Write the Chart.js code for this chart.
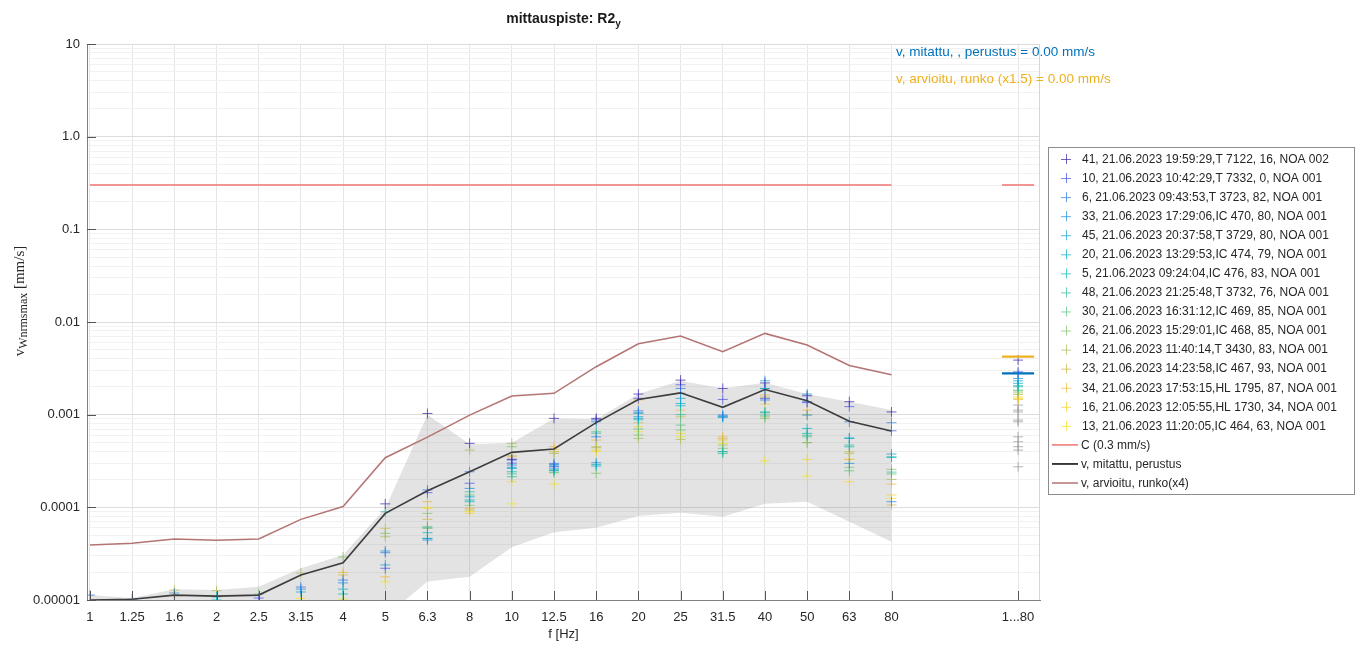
<!DOCTYPE html>
<html><head><meta charset="utf-8">
<script src="https://cdn.jsdelivr.net/npm/chart.js@4.4.0/dist/chart.umd.min.js"></script>
<style>html,body{margin:0;padding:0;background:#fff;}#wrap{width:1362px;height:645px;position:relative;}</style>
</head><body><div id="wrap"><canvas id="c" width="1362" height="645"></canvas></div>
<script>
// ---------------- DATA ----------------
const freqLabels = ['1','1.25','1.6','2','2.5','3.15','4','5','6.3','8','10','12.5','16','20','25','31.5','40','50','63','80'];
const totalLabel = '1...80';
const totalSlot = 22; // category slot of the "1...80" column (two empty slots after 80)

const yTickValues = [1e-5, 1e-4, 1e-3, 1e-2, 1e-1, 1, 10];
const yTickLabels = ['0.00001','0.0001','0.001','0.01','0.1','1.0','10'];

const seriesLabels = [
  '41, 21.06.2023 19:59:29,T 7122, 16, NOA 002',
  '10, 21.06.2023 10:42:29,T 7332, 0, NOA 001',
  '6, 21.06.2023 09:43:53,T 3723, 82, NOA 001',
  '33, 21.06.2023 17:29:06,IC 470, 80, NOA 001',
  '45, 21.06.2023 20:37:58,T 3729, 80, NOA 001',
  '20, 21.06.2023 13:29:53,IC 474, 79, NOA 001',
  '5, 21.06.2023 09:24:04,IC 476, 83, NOA 001',
  '48, 21.06.2023 21:25:48,T 3732, 76, NOA 001',
  '30, 21.06.2023 16:31:12,IC 469, 85, NOA 001',
  '26, 21.06.2023 15:29:01,IC 468, 85, NOA 001',
  '14, 21.06.2023 11:40:14,T 3430, 83, NOA 001',
  '23, 21.06.2023 14:23:58,IC 467, 93, NOA 001',
  '34, 21.06.2023 17:53:15,HL 1795, 87, NOA 001',
  '16, 21.06.2023 12:05:55,HL 1730, 34, NOA 001',
  '13, 21.06.2023 11:20:05,IC 464, 63, NOA 001'
];
// values per measurement: 20 frequency bands, then the 1...80 total
const m41 = [7e-6,6e-6,7e-6,6e-6,7e-6,8e-6,8e-6,1.09e-4,1.03e-3,4.90e-4,3.3e-4,9.12e-4,9.12e-4,1.67e-3,2.36e-3,1.92e-3,2.2e-3,1.6e-3,1.38e-3,1.07e-3,3.88e-3];
const m10 = [6.5e-6,7e-6,6e-6,7e-6,1.05e-5,7e-6,9e-6,2.20e-5,1.44e-4,1.82e-4,3.0e-4,2.74e-4,8.8e-4,1.5e-3,2.1e-3,1.46e-3,1.5e-3,1.35e-3,1.22e-3,6.70e-4,2.90e-3];
const m6  = [1.13e-5,1.02e-5,8e-6,6e-6,7e-6,1.38e-5,1.64e-5,3.24e-5,1.54e-4,2.42e-4,3.24e-4,2.98e-4,5.77e-4,1.1e-3,1.92e-3,9.9e-4,1.44e-3,1.38e-3,8.38e-4,8.18e-4,2.79e-3];
const m33 = [6e-6,5.5e-6,1.19e-5,8e-6,6e-6,1.31e-5,1.53e-5,3.38e-5,4.44e-5,1.60e-4,2.86e-4,2.9e-4,3.03e-4,1.05e-3,1.7e-3,9.5e-4,1.9e-3,9.9e-4,2.98e-4,1.15e-4,2.46e-3];
const m45 = [5.5e-6,6e-6,7e-6,7e-6,8e-6,1.22e-5,9e-6,2.39e-5,4.6e-5,1.30e-4,2.7e-4,2.8e-4,8.38e-4,9.5e-4,1.50e-3,9.66e-4,2.32e-3,1.67e-3,5.6e-4,3.76e-4,2.32e-3];
const m20 = [7.5e-6,5e-6,6e-6,1.08e-5,6e-6,8e-6,1.31e-5,8e-6,5.32e-5,1.20e-4,2.63e-4,2.6e-4,2.79e-4,9.12e-4,1.32e-3,9.3e-4,1.92e-3,7.11e-4,5.55e-4,3.46e-4,2.18e-3];
const m5  = [5e-6,6.5e-6,5.5e-6,1.0e-5,7e-6,7e-6,1.16e-5,8.5e-6,4.63e-5,1.15e-4,2.42e-4,2.5e-4,2.9e-4,8.8e-4,1.25e-3,4.0e-4,1.05e-3,6.28e-4,4.5e-4,3.5e-4,2.05e-3];
const m48 = [6e-6,5e-6,6.5e-6,6e-6,6e-6,9e-6,8e-6,8.96e-5,6.0e-5,1.47e-4,2.14e-4,2.53e-4,6.3e-4,1.03e-3,1.0e-3,3.82e-4,1.07e-3,6.0e-4,4.70e-4,2.4e-4,2.0e-3];
const m30 = [4.5e-6,4.5e-6,5e-6,7e-6,5e-6,8e-6,9e-6,7e-6,6.18e-5,1.36e-4,2.3e-4,2.4e-4,6.54e-4,7.0e-4,7.72e-4,3.98e-4,9.9e-4,5.77e-4,2.48e-4,2.29e-4,1.84e-3];
const m26 = [5e-6,6e-6,6e-6,6e-6,1.16e-5,7e-6,2.91e-5,5.24e-5,8.61e-5,1.05e-4,4.51e-4,2.36e-4,2.33e-4,6.03e-4,6.82e-4,4.33e-4,9.12e-4,4.98e-4,2.70e-4,2.57e-4,1.8e-3];
const m14 = [7e-6,5e-6,8e-6,1.26e-5,7e-6,1.95e-5,8e-6,4.82e-5,5.94e-5,4.15e-4,4.90e-4,3.82e-4,4.4e-4,5.55e-4,5.41e-4,4.70e-4,9.5e-4,5.0e-4,3.82e-4,2.00e-4,1.72e-3];
const m23 = [4e-6,4.5e-6,1.28e-5,7e-6,6e-6,8e-6,1.86e-5,5.94e-5,7.42e-5,9.35e-5,3.6e-4,3.98e-4,4.51e-4,8.18e-4,9.49e-4,5.5e-4,1.55e-3,1.0e-3,3.98e-4,1.06e-4,1.65e-3];
const m34 = [6e-6,5.5e-6,7e-6,5e-6,5e-6,7e-6,1.98e-5,1.78e-5,1.15e-4,9.75e-5,3.51e-4,4.51e-4,5.32e-4,1.44e-3,1.12e-3,5.77e-4,1.63e-3,1.12e-3,3.29e-4,1.78e-4,1.46e-3];
const m16 = [5e-6,4e-6,9.75e-6,6e-6,6e-6,6e-6,8e-6,7.5e-6,9.75e-5,8.61e-5,1.89e-4,4.2e-4,4.15e-4,7.41e-4,6.28e-4,5.32e-4,1.30e-3,3.29e-4,1.89e-4,1.36e-4,1.55e-3];
const m13 = [4.5e-6,5e-6,6e-6,5e-6,5e-6,1.04e-5,1.02e-5,1.57e-5,1.0e-4,9.0e-5,1.09e-4,1.78e-4,4.0e-4,6.54e-4,5.77e-4,4.9e-4,3.18e-4,2.18e-4,3.3e-4,1.25e-4,1.5e-3];
const seriesValues = [m41,m10,m6,m33,m45,m20,m5,m48,m30,m26,m14,m23,m34,m16,m13];

// other (grey, unlabelled) totals in the 1...80 column
const otherTotals = [1.27e-3,1.12e-3,1.07e-3,8.74e-4,8.38e-4,5.77e-4,5.10e-4,4.51e-4,4.15e-4,2.74e-4];

const measuredLine  = [1.0e-5,1.02e-5,1.13e-5,1.1e-5,1.13e-5,1.86e-5,2.52e-5,8.6e-5,1.51e-4,2.42e-4,3.92e-4,4.26e-4,8.2e-4,1.46e-3,1.72e-3,1.2e-3,1.87e-3,1.41e-3,8.5e-4,6.65e-4];
const estimatedLine = [3.92e-5,4.09e-5,4.55e-5,4.4e-5,4.55e-5,7.42e-5,1.02e-4,3.43e-4,5.73e-4,9.9e-4,1.59e-3,1.70e-3,3.29e-3,5.82e-3,7.05e-3,4.77e-3,7.53e-3,5.64e-3,3.40e-3,2.69e-3];
const bandUpper = [1.13e-5,1.05e-5,1.31e-5,1.28e-5,1.39e-5,2.2e-5,3.06e-5,9.8e-5,1.0e-3,4.8e-4,4.97e-4,9.1e-4,8.9e-4,1.67e-3,2.32e-3,1.92e-3,2.21e-3,1.67e-3,1.38e-3,1.12e-3];
const bandLower = [6e-6,6e-6,6e-6,6e-6,6e-6,6e-6,6e-6,6.6e-6,1.58e-5,1.78e-5,3.7e-5,5.37e-5,6.03e-5,8.06e-5,8.75e-5,7.9e-5,1.09e-4,1.15e-4,7.0e-5,4.25e-5];
const cLimit = 0.3;
const totalMeasured = 2.79e-3;
const totalEstimated = 4.22e-3;

const titleMain = 'mittauspiste: R2', titleSub = 'y';
const annoMeasured = 'v, mitattu, , perustus = 0.00 mm/s';
const annoEstimated = 'v, arvioitu, runko (x1.5) = 0.00 mm/s';
const legendC = 'C (0.3 mm/s)', legendMeasured = 'v, mitattu, perustus', legendEstimated = 'v, arvioitu, runko(x4)';

// ---------------- STYLE ----------------
const parula = ['#3e26a8','#4653e6','#2f78e0','#1a8fdc','#12a0d3','#06aec4','#14b8b0','#32bd98','#5ac07f','#80c06a','#a8bd5a','#cbb94a','#f0b93c','#f7d22c','#f2e41c'];
function alpha(hex, a){const n=parseInt(hex.slice(1),16);return `rgba(${n>>16},${(n>>8)&255},${n&255},${a})`;}
const C_COLOR = '#f07373', MEAS_COLOR = '#3c3c3c', EST_COLOR = '#b47474', BLUE = '#0072bd', ORANGE = '#edb120';
const SEG = 0.38; // half width of the short horizontal marks in the total column
const FONT = '"Liberation Sans", Arial, Helvetica, sans-serif';

const atFreq = arr => arr.map((v,i)=>({x:i, y:v}));
const datasets = [];
datasets.push({label:'measured', data: atFreq(measuredLine), showLine:true, borderColor:MEAS_COLOR, borderWidth:1.6, pointRadius:0, order:1});
datasets.push({label:'estimated', data: atFreq(estimatedLine), showLine:true, borderColor:EST_COLOR, borderWidth:1.5, pointRadius:0, order:2});
datasets.push({label:'C', data: freqLabels.map((_,i)=>({x:i,y:cLimit})), showLine:true, borderColor:C_COLOR, borderWidth:1.5, pointRadius:0, order:3});
datasets.push({label:'C total', data:[{x:totalSlot-SEG,y:cLimit},{x:totalSlot+SEG,y:cLimit}], showLine:true, borderColor:C_COLOR, borderWidth:1.5, pointRadius:0, order:3});
datasets.push({label:'tot est', data:[{x:totalSlot-SEG,y:totalEstimated},{x:totalSlot+SEG,y:totalEstimated}], showLine:true, borderColor:ORANGE, borderWidth:2.2, pointRadius:0, order:4});
datasets.push({label:'tot meas', data:[{x:totalSlot-SEG,y:totalMeasured},{x:totalSlot+SEG,y:totalMeasured}], showLine:true, borderColor:BLUE, borderWidth:2.2, pointRadius:0, order:4});
seriesValues.forEach((vals,k)=>{
  const pts = vals.slice(0,freqLabels.length).map((v,i)=>({x:i,y:v}));
  pts.push({x:totalSlot, y:vals[freqLabels.length]});
  datasets.push({label:seriesLabels[k], data:pts, showLine:false, pointStyle:'cross', pointRadius:5, pointBorderWidth:1, borderColor:alpha(parula[k],0.72), backgroundColor:alpha(parula[k],0.72), order:10+k, clip:0});
});
datasets.push({label:'other', data: otherTotals.map(v=>({x:totalSlot,y:v})), showLine:false, pointStyle:'cross', pointRadius:5, pointBorderWidth:1, borderColor:'rgba(150,150,150,0.7)', order:30, clip:0});
datasets.push({label:'bandU', data: atFreq(bandUpper), showLine:true, borderWidth:0, borderColor:'rgba(0,0,0,0)', pointRadius:0, fill:'+1', backgroundColor:'rgba(128,128,128,0.22)', order:50});
datasets.push({label:'bandL', data: atFreq(bandLower), showLine:true, borderWidth:0, borderColor:'rgba(0,0,0,0)', pointRadius:0, order:51});

const isDecade = v => Math.abs(Math.log10(v) - Math.round(Math.log10(v))) < 1e-6;

const decorPlugin = {
  id:'decor',
  afterDraw(chart){
    const ctx = chart.ctx, a = chart.chartArea, xs = chart.scales.x, ys = chart.scales.y;
    ctx.save();
    // right edge line
    ctx.strokeStyle = '#d6d6d6'; ctx.lineWidth = 1;
    ctx.beginPath(); ctx.moveTo(a.right-0.5, a.top); ctx.lineTo(a.right-0.5, a.bottom); ctx.stroke();
    // inward ticks
    ctx.strokeStyle = '#555'; ctx.lineWidth = 1;
    ctx.beginPath();
    yTickValues.forEach(v=>{const y=Math.round(ys.getPixelForValue(v))+0.5; ctx.moveTo(a.left, y); ctx.lineTo(a.left+9, y);});
    xs.ticks.forEach(t=>{const x=Math.round(xs.getPixelForValue(t.value))+0.5; ctx.moveTo(x, a.bottom); ctx.lineTo(x, a.bottom-9);});
    ctx.stroke();
    // title
    const cx = (a.left + a.right)/2;
    ctx.fillStyle = '#1a1a1a';
    ctx.font = 'bold 14px ' + FONT;
    const w1 = ctx.measureText(titleMain).width;
    ctx.font = 'bold 10px ' + FONT;
    const w2 = ctx.measureText(titleSub).width;
    let tx = cx - (w1+w2)/2;
    ctx.textBaseline = 'alphabetic'; ctx.textAlign = 'left';
    ctx.font = 'bold 14px ' + FONT; ctx.fillText(titleMain, tx, 23);
    ctx.font = 'bold 10px ' + FONT; ctx.fillText(titleSub, tx + w1, 27);
    // x-axis title
    ctx.font = '13px ' + FONT; ctx.fillStyle = '#262626'; ctx.textAlign = 'center'; ctx.textBaseline = 'middle';
    ctx.fillText('f [Hz]', cx, 634);
    // y-axis title (rotated, with subscript)
    ctx.save();
    ctx.translate(19, 301); ctx.rotate(-Math.PI/2);
    const p1 = 'v', p2 = 'Wnrmsmax', p3 = ' [mm/s]';
    ctx.font = '15px "Liberation Serif", "Times New Roman", serif'; const a1 = ctx.measureText(p1).width, a3 = ctx.measureText(p3).width;
    ctx.font = '12px "Liberation Serif", "Times New Roman", serif'; const a2 = ctx.measureText(p2).width;
    let sx = -(a1+a2+a3)/2;
    ctx.textAlign = 'left'; ctx.textBaseline = 'alphabetic'; ctx.fillStyle = '#262626';
    ctx.font = '15px "Liberation Serif", "Times New Roman", serif'; ctx.fillText(p1, sx, 5);
    ctx.font = '12px "Liberation Serif", "Times New Roman", serif'; ctx.fillText(p2, sx+a1, 8);
    ctx.font = '15px "Liberation Serif", "Times New Roman", serif'; ctx.fillText(p3, sx+a1+a2, 5);
    ctx.restore();
    // annotations
    ctx.textAlign = 'left'; ctx.textBaseline = 'middle'; ctx.font = '13.5px ' + FONT;
    ctx.fillStyle = BLUE; ctx.fillText(annoMeasured, 896, 52);
    ctx.fillStyle = ORANGE; ctx.fillText(annoEstimated, 896, 79);
    // legend
    const lx = 1048, ly = 147, lw = 307, lh = 348;
    ctx.fillStyle = '#fff'; ctx.fillRect(lx, ly, lw, lh);
    ctx.strokeStyle = '#8c8c8c'; ctx.lineWidth = 1; ctx.strokeRect(lx+0.5, ly+0.5, lw-1, lh-1);
    const items = seriesLabels.map((t,i)=>({kind:'cross', color:alpha(parula[i],0.72), text:t}))
      .concat([{kind:'line', color:C_COLOR, text:legendC},{kind:'line', color:'#000', text:legendMeasured},{kind:'line', color:EST_COLOR, text:legendEstimated}]);
    const dy = 19.06;
    ctx.font = '12px ' + FONT;
    items.forEach((it,i)=>{
      const y = ly + 12 + i*dy;
      ctx.strokeStyle = it.color;
      ctx.beginPath();
      if (it.kind==='cross'){ ctx.lineWidth=1; ctx.moveTo(1061,y+0.5); ctx.lineTo(1071,y+0.5); ctx.moveTo(1066.5,y-5); ctx.lineTo(1066.5,y+5); }
      else { ctx.lineWidth=1.5; ctx.moveTo(1052,y); ctx.lineTo(1078,y); }
      ctx.stroke();
      ctx.fillStyle = '#262626'; ctx.fillText(it.text, it.kind==='cross'?1082:1081, y+0.5);
    });
    ctx.restore();
  }
};

new Chart(document.getElementById('c'), {
  type:'scatter',
  data:{datasets},
  options:{
    responsive:false, animation:false, devicePixelRatio:1,
    layout:{padding:{left:0, top:44, right:322, bottom:0}},
    plugins:{legend:{display:false}, tooltip:{enabled:false}, title:{display:false}},
    elements:{line:{tension:0}},
    scales:{
      x:{
        type:'linear', min:-0.07, max:22.52,
        afterBuildTicks: s => { s.ticks = freqLabels.map((_,i)=>({value:i})).concat([{value:totalSlot}]); },
        afterFit: s => { s.height = 45; },
        ticks:{autoSkip:false, maxRotation:0, padding:10, color:'#262626', font:{family:FONT, size:13},
          callback:(v)=> v===totalSlot ? totalLabel : (freqLabels[v] ?? '')},
        grid:{color:'#e6e6e6', drawTicks:false},
        border:{display:true, color:'#808080'}
      },
      y:{
        type:'logarithmic', min:1e-5, max:10,
        afterBuildTicks: s => {
          const t=[];
          for (let d=0; d<yTickValues.length; d++){
            t.push({value:yTickValues[d]});
            if (d<yTickValues.length-1) for (let m=2;m<=9;m++) t.push({value:yTickValues[d]*m});
          }
          s.ticks = t;
        },
        afterFit: s => { s.width = 87; },
        ticks:{autoSkip:false, padding:7, color:'#262626', font:{family:FONT, size:13},
          callback:(v)=>{ const k=yTickValues.findIndex(d=>Math.abs(d-v)/d<1e-6); return k>=0?yTickLabels[k]:''; }},
        grid:{drawTicks:false, color: c => (c.tick && isDecade(c.tick.value)) ? '#dcdcdc' : '#f1f1f1'},
        border:{display:true, color:'#808080'}
      }
    }
  },
  plugins:[decorPlugin]
});
</script></body></html>
